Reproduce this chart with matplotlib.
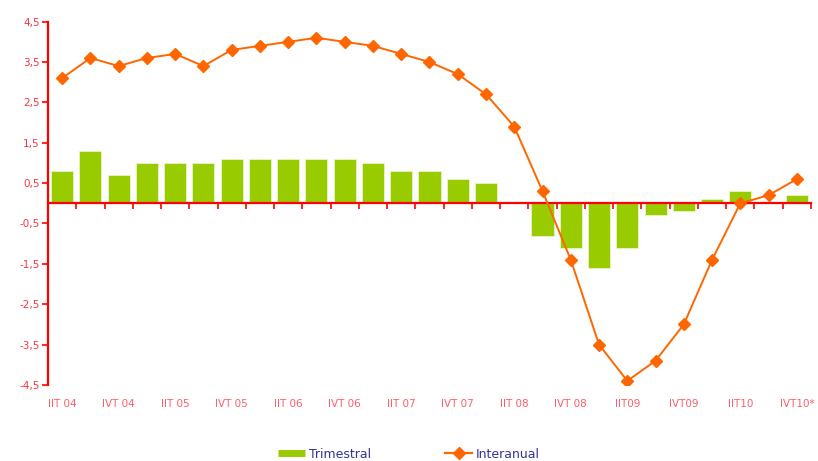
import matplotlib
matplotlib.use("Agg")
import matplotlib.pyplot as plt
from matplotlib.lines import Line2D
import numpy as np

# Quarters IIT 04 .. IVT 10
quarters = ["IIT 04", "IIIT 04", "IVT 04",
            "IT 05", "IIT 05", "IIIT 05", "IVT 05",
            "IT 06", "IIT 06", "IIIT 06", "IVT 06",
            "IT 07", "IIT 07", "IIIT 07", "IVT 07",
            "IT 08", "IIT 08", "IIIT 08", "IVT 08",
            "IT09", "IIT09", "IIIT09", "IVT09",
            "IT10", "IIT10", "IIIT10", "IVT10*"]

trimestral = [0.8, 1.3, 0.7, 1.0, 1.0, 1.0, 1.1, 1.1, 1.1, 1.1, 1.1, 1.0, 0.8, 0.8,
              0.6, 0.5, 0.0, -0.8, -1.1, -1.6, -1.1, -0.3, -0.2, 0.1, 0.3, 0.0, 0.2]

interanual = [3.1, 3.6, 3.4, 3.6, 3.7, 3.4, 3.8, 3.9, 4.0, 4.1, 4.0, 3.9, 3.7, 3.5,
              3.2, 2.7, 1.9, 0.3, -1.4, -3.5, -4.4, -3.9, -3.0, -1.4, 0.0, 0.2, 0.6]

y_ticks = [-4.5, -3.5, -2.5, -1.5, -0.5, 0.5, 1.5, 2.5, 3.5, 4.5]

RED = "#FF0000"
LABEL_RED = "#FF3344"
GREEN = "#99CC00"
ORANGE = "#FF6600"
NAVY = "#333399"

fig = plt.figure(figsize=(8.18, 4.61), dpi=100)
ax = fig.add_axes([0.0587, 0.165, 0.9327, 0.788])

x = np.arange(len(quarters))
ax.bar(x, trimestral, width=0.78, color=GREEN, edgecolor="#E8F5C0", linewidth=0.6, zorder=2)
ax.plot(x, interanual, color=ORANGE, linewidth=1.4, marker="D", markersize=6.5,
        markeredgecolor=ORANGE, zorder=3)

ax.set_xlim(-0.5, len(quarters) - 0.5)
ax.set_ylim(-4.5, 4.5)

# Spines: red vertical axis, category axis sitting on zero
for s in ("top", "right"):
    ax.spines[s].set_visible(False)
ax.spines["left"].set_color(RED)
ax.spines["left"].set_linewidth(1.6)
ax.spines["bottom"].set_position(("data", 0))
ax.spines["bottom"].set_color(RED)
ax.spines["bottom"].set_linewidth(1.6)

ax.set_yticks(y_ticks)
ax.set_yticklabels([f"{v:.1f}".replace(".", ",") for v in y_ticks],
                   color=LABEL_RED, fontsize=7.5, family="DejaVu Sans")
ax.tick_params(axis="y", direction="out", length=4, width=1.2, color=RED, pad=2)

# Category boundary ticks on the zero line
ax.set_xticks(np.arange(len(quarters) + 1) - 0.5)
ax.set_xticklabels([])
ax.tick_params(axis="x", direction="out", length=4, width=1.2, color=RED)

# Every other quarter label below the plot
trans = matplotlib.transforms.blended_transform_factory(ax.transData, ax.transAxes)
for i in range(0, len(quarters), 2):
    ax.text(i, -0.052, quarters[i], transform=trans, ha="center", va="center",
            color=LABEL_RED, fontsize=7.5, family="DejaVu Sans", alpha=0.8)

handles = [Line2D([0], [0], color=GREEN, linewidth=5, solid_capstyle="butt"),
           Line2D([0], [0], color=ORANGE, linewidth=1.6, marker="D", markersize=6)]
leg = fig.legend(handles, ["Trimestral", "Interanual"], loc="center",
                 bbox_to_anchor=(0.5, 0.015), ncol=2, frameon=False, fontsize=9,
                 handlelength=2.2, handletextpad=0.3, columnspacing=5.9)
for t in leg.get_texts():
    t.set_color(NAVY)

fig.savefig("out.png", dpi=100)
